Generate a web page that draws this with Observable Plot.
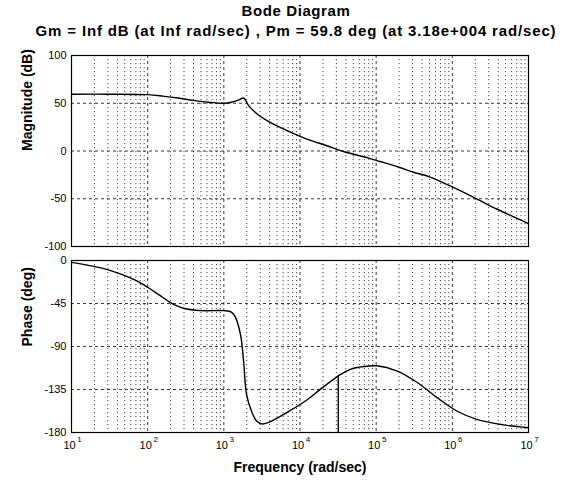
<!DOCTYPE html>
<html>
<head>
<meta charset="utf-8">
<script src="https://cdn.jsdelivr.net/npm/d3@7"></script>
<script src="https://cdn.jsdelivr.net/npm/@observablehq/plot@0.6"></script>
<style>
  html, body { margin: 0; padding: 0; background: #fff; }
  #root { position: relative; width: 572px; height: 487px; background: #fff; overflow: hidden;
          font-family: "Liberation Sans", Arial, sans-serif; }
  .t { position: absolute; left: 0; width: 592px; text-align: center; font-weight: bold; color: #000; white-space: nowrap; }
  #title { top: 2px; font-size: 15px; letter-spacing: 0.6px; }
  #subtitle { top: 22px; font-size: 15px; letter-spacing: 0.85px; }
  .panel { position: absolute; left: 0; }
</style>
</head>
<body>
<div id="root">
  <div id="title" class="t">Bode Diagram</div>
  <div id="subtitle" class="t">Gm = Inf dB (at Inf rad/sec) , Pm = 59.8 deg (at 3.18e+004 rad/sec)</div>
  <div id="mag" class="panel" style="top:45px"></div>
  <div id="phase" class="panel" style="top:250px"></div>
</div>
<script>
// ---- data (log10 of frequency in rad/sec, and values) ----
const magLogFreq = [1.0, 1.5, 2.0, 2.2, 2.4, 2.6, 2.8, 3.0, 3.1, 3.2, 3.26, 3.33, 3.45, 3.567, 3.83, 4.09, 4.355, 4.57, 4.88, 5.05, 5.3, 5.5, 5.7, 5.93, 6.28, 6.59, 7.0];
const magDb      = [59.5, 59.5, 59, 57.5, 55.5, 53, 51, 50, 51, 53.5, 55.5, 47, 38, 31.8, 21.3, 12.5, 5.5, -0.5, -7, -11, -17, -22.5, -27, -35, -48.5, -61, -76];

const phaseLogFreq = [1.0, 1.12, 1.4, 1.64, 1.85, 2.0, 2.15, 2.3, 2.47, 2.7, 3.0, 3.1, 3.15, 3.22, 3.26, 3.3, 3.37, 3.43, 3.5, 3.57, 3.83, 4.09, 4.27, 4.51, 4.66, 4.836, 5.01, 5.27, 5.54, 5.8, 6.06, 6.32, 6.67, 7.0];
const phaseDeg     = [-2, -3.5, -8, -14, -21, -28, -36, -44, -50, -52.5, -52.5, -54, -59, -78, -106, -141, -159, -168, -171, -170, -159, -146, -134.6, -120.5, -114, -111, -110.2, -115.5, -127.7, -143.5, -157.5, -166.3, -172, -175];

const pmFreq = 3.18e4;
const pmPhase = -120.2;

const decadeExps = [1, 2, 3, 4, 5, 6, 7];
const minorMultipliers = [2, 3, 4, 5, 6, 7, 8, 9];
const magTicks = [-100, -50, 0, 50, 100];
const phaseTicks = [-180, -135, -90, -45, 0];

// ---- derived tables ----
const decades = decadeExps.map(e => 10 ** e);
const minors = decadeExps.slice(0, -1).flatMap(e => minorMultipliers.map(m => m * 10 ** e));
const magData = magLogFreq.map((l, i) => ({f: 10 ** l, v: magDb[i]}));
const phaseData = phaseLogFreq.map((l, i) => ({f: 10 ** l, v: phaseDeg[i]}));

const font = "'Liberation Sans', Arial, sans-serif";
const gridColor = "#222";

function gridMarks(yTicks) {
  return [
    Plot.ruleX(minors, {stroke: gridColor, strokeWidth: 1, strokeDasharray: "1.2,2.8", strokeOpacity: 0.85}),
    Plot.ruleX(decades, {stroke: gridColor, strokeWidth: 1, strokeDasharray: "3,3", strokeOpacity: 0.9}),
    Plot.ruleY(yTicks, {stroke: gridColor, strokeWidth: 1, strokeDasharray: "3,3", strokeOpacity: 0.9}),
  ];
}

const magPlot = Plot.plot({
  width: 572, height: 210,
  marginLeft: 71, marginRight: 44, marginTop: 10, marginBottom: 9,
  style: {fontFamily: font, background: "#fff", color: "#000"},
  x: {type: "log", domain: [10, 1e7], axis: null},
  y: {domain: [-100, 100], axis: null},
  marks: [
    ...gridMarks(magTicks),
    Plot.axisY({ticks: magTicks, tickSize: 0, tickPadding: 5, fontSize: 11, tickFormat: d => String(d), label: null}),
    Plot.line(magData, {x: "f", y: "v", curve: "catmull-rom", stroke: "#000", strokeWidth: 1.4}),
    Plot.frame({stroke: "#000", strokeWidth: 1.2}),
    Plot.text(["Magnitude (dB)"], {frameAnchor: "left", dx: -44, rotate: -90, fontSize: 14, fontWeight: "bold", text: d => d, fill: "#000"})
  ]
});
document.getElementById("mag").appendChild(magPlot);

const phasePlot = Plot.plot({
  width: 572, height: 237,
  marginLeft: 71, marginRight: 44, marginTop: 10, marginBottom: 55,
  style: {fontFamily: font, background: "#fff", color: "#000"},
  x: {type: "log", domain: [10, 1e7], axis: null},
  y: {domain: [-180, 0], axis: null},
  marks: [
    ...gridMarks(phaseTicks),
    Plot.axisY({ticks: phaseTicks, tickSize: 0, tickPadding: 5, fontSize: 11, tickFormat: d => String(d), label: null}),
    Plot.line(phaseData, {x: "f", y: "v", curve: "catmull-rom", stroke: "#000", strokeWidth: 1.4}),
    Plot.ruleX([pmFreq], {y1: pmPhase, y2: -180, stroke: "#000", strokeWidth: 1.4}),
    Plot.frame({stroke: "#000", strokeWidth: 1.2}),
    Plot.text(decades, {x: d => d, frameAnchor: "bottom", dy: 16, dx: -2, text: () => "10", fontSize: 11, fill: "#000"}),
    Plot.text(decades, {x: d => d, frameAnchor: "bottom", dy: 9, dx: 8, text: d => String(Math.round(Math.log10(d))), fontSize: 8, fill: "#000"}),
    Plot.text(["Phase (deg)"], {frameAnchor: "left", dx: -44, rotate: -90, fontSize: 14, fontWeight: "bold", text: d => d, fill: "#000"}),
    Plot.text(["Frequency (rad/sec)"], {frameAnchor: "bottom", dy: 39, fontSize: 14, fontWeight: "bold", text: d => d, fill: "#000"})
  ]
});
document.getElementById("phase").appendChild(phasePlot);
</script>
</body>
</html>
